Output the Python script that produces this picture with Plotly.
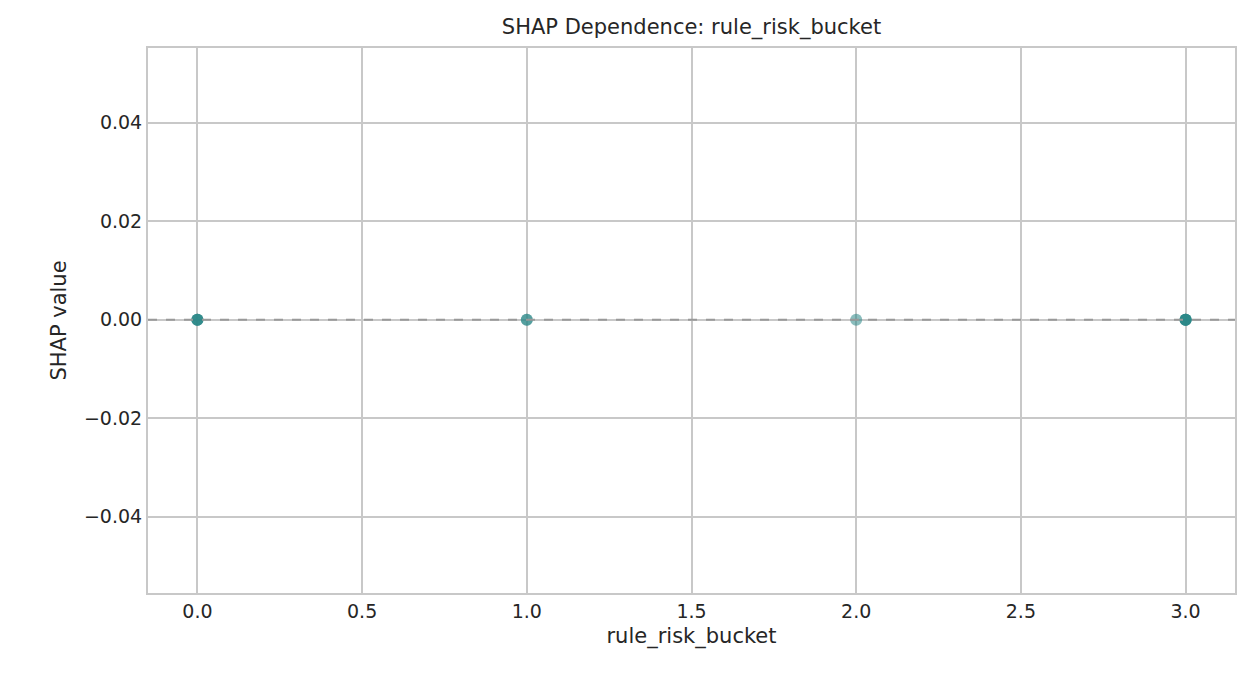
import plotly.graph_objects as go

feature_values = [0, 0, 0, 0, 1, 1, 2, 3, 3, 3, 3, 3]
shap_values = [0.0] * len(feature_values)
x_ticks = [0.0, 0.5, 1.0, 1.5, 2.0, 2.5, 3.0]
y_ticks = [-0.04, -0.02, 0.0, 0.02, 0.04]

fig = go.Figure()
fig.add_trace(go.Scatter(
    x=feature_values, y=shap_values, mode="markers",
    marker=dict(size=12, color="rgba(42,135,135,0.55)", line=dict(width=0)),
    showlegend=False))
fig.add_hline(y=0, line=dict(color="#999999", width=2, dash="dash"))

axis_common = dict(showgrid=True, gridcolor="#c8c8c8", gridwidth=1.6,
                   showline=True, linecolor="#c8c8c8", linewidth=2, mirror=True,
                   zeroline=False, ticks="", tickfont=dict(size=19, color="#262626"),
                   title_font=dict(size=21, color="#262626"))
fig.update_xaxes(range=[-0.15, 3.15], tickvals=x_ticks,
                 ticktext=[f"{v:.1f}" for v in x_ticks],
                 title_text="rule_risk_bucket", title_standoff=8, **axis_common)
fig.update_yaxes(range=[-0.0555, 0.0552], tickvals=y_ticks,
                 ticktext=[("\u2212" if v < 0 else "") + f"{abs(v):.2f}" for v in y_ticks],
                 title_text="SHAP value", title_standoff=12, **axis_common)
fig.update_layout(
    width=1236, height=672, plot_bgcolor="white", paper_bgcolor="white",
    font=dict(family="DejaVu Sans", color="#262626"),
    title=dict(text="SHAP Dependence: rule_risk_bucket", x=0.553, xanchor="center",
               y=0.972, yanchor="middle", font=dict(size=21, color="#262626")),
    margin=dict(l=140, r=7, t=40, b=87))
fig.write_html("out.html")
